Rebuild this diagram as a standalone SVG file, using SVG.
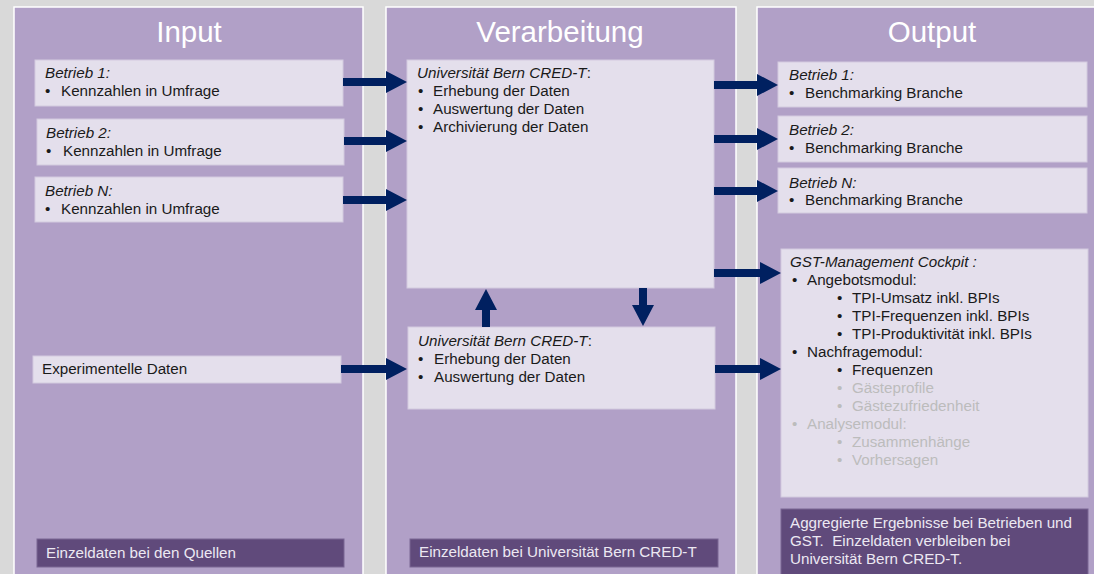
<svg xmlns="http://www.w3.org/2000/svg" width="1094" height="574" viewBox="0 0 1094 574">
<style>
.col{fill:#b1a0c7;stroke:#ffffff;stroke-width:1.5}
.box{fill:#e4dfec;stroke:#d3cadf;stroke-width:1}
.dark{fill:#604a7b;stroke:#7a6694;stroke-width:1}
.title{font-family:"Liberation Sans",Arial,sans-serif;font-size:29.5px;fill:#ffffff;text-anchor:middle}
.t{font-family:"Liberation Sans",Arial,sans-serif;font-size:15.2px;fill:#1a1a1a}
.i{font-style:italic}
.g{fill:#bcbcbc}
.w{fill:#ece8f2}
.arr{fill:#002060}
</style>
<rect x="0" y="0" width="1094" height="574" fill="#d9d9d9"/>
<g id="col-input">
<rect class="col" x="14" y="7" width="349" height="580"/>
<text class="title" x="189" y="42">Input</text>
</g>
<g id="col-verarbeitung">
<rect class="col" x="386" y="7" width="350" height="580"/>
<text class="title" x="560" y="42">Verarbeitung</text>
</g>
<g id="col-output">
<rect class="col" x="757" y="7" width="350" height="580"/>
<text class="title" x="932" y="42">Output</text>
</g>
<g id="in-b1">
<rect class="box" x="35" y="60" width="308" height="46"/>
<text class="t i" x="45" y="78">Betrieb 1:</text>
<text class="t" x="45" y="96">•</text><text class="t" x="61" y="96">Kennzahlen in Umfrage</text>
</g>
<g id="in-b2">
<rect class="box" x="37" y="119" width="307" height="46"/>
<text class="t i" x="46" y="138">Betrieb 2:</text>
<text class="t" x="46" y="156">•</text><text class="t" x="63" y="156">Kennzahlen in Umfrage</text>
</g>
<g id="in-bn">
<rect class="box" x="35" y="177" width="308" height="45"/>
<text class="t i" x="45" y="196">Betrieb N:</text>
<text class="t" x="45" y="214">•</text><text class="t" x="61" y="214">Kennzahlen in Umfrage</text>
</g>
<g id="in-exp">
<rect class="box" x="33" y="356" width="308" height="27"/>
<text class="t" x="42" y="374">Experimentelle Daten</text>
</g>
<g id="in-foot">
<rect class="dark" x="37" y="539" width="307" height="28"/>
<text class="t w" x="46" y="558">Einzeldaten bei den Quellen</text>
</g>
<g id="proc-upper">
<rect class="box" x="407" y="60" width="307" height="228"/>
<text class="t" x="417" y="78"><tspan class="i">Universität Bern CRED-T</tspan>:</text>
<text class="t" x="418" y="96">•</text><text class="t" x="433" y="96">Erhebung der Daten</text>
<text class="t" x="418" y="114">•</text><text class="t" x="433" y="114">Auswertung der Daten</text>
<text class="t" x="418" y="132">•</text><text class="t" x="433" y="132">Archivierung der Daten</text>
</g>
<g id="proc-lower">
<rect class="box" x="408" y="327" width="307" height="82"/>
<text class="t" x="418" y="346"><tspan class="i">Universität Bern CRED-T</tspan>:</text>
<text class="t" x="418" y="364">•</text><text class="t" x="434" y="364">Erhebung der Daten</text>
<text class="t" x="418" y="382">•</text><text class="t" x="434" y="382">Auswertung der Daten</text>
</g>
<g id="proc-foot">
<rect class="dark" x="410" y="539" width="308" height="28"/>
<text class="t w" x="419" y="557">Einzeldaten bei Universität Bern CRED-T</text>
</g>
<g id="out-b1">
<rect class="box" x="778" y="62" width="309" height="45"/>
<text class="t i" x="789" y="80">Betrieb 1:</text>
<text class="t" x="789" y="98">•</text><text class="t" x="805" y="98">Benchmarking Branche</text>
</g>
<g id="out-b2">
<rect class="box" x="778" y="116" width="309" height="46"/>
<text class="t i" x="789" y="135">Betrieb 2:</text>
<text class="t" x="789" y="153">•</text><text class="t" x="805" y="153">Benchmarking Branche</text>
</g>
<g id="out-bn">
<rect class="box" x="778" y="168" width="309" height="45"/>
<text class="t i" x="789" y="188">Betrieb N:</text>
<text class="t" x="789" y="205">•</text><text class="t" x="805" y="205">Benchmarking Branche</text>
</g>
<g id="out-gst">
<rect class="box" x="781" y="249" width="307" height="248"/>
<text class="t i" x="790" y="267">GST-Management Cockpit :</text>
<text class="t" x="792" y="285">•</text><text class="t" x="807" y="285">Angebotsmodul:</text>
<text class="t" x="837" y="303">•</text><text class="t" x="852" y="303">TPI-Umsatz inkl. BPIs</text>
<text class="t" x="837" y="321">•</text><text class="t" x="852" y="321">TPI-Frequenzen inkl. BPIs</text>
<text class="t" x="837" y="339">•</text><text class="t" x="852" y="339">TPI-Produktivität inkl. BPIs</text>
<text class="t" x="792" y="357">•</text><text class="t" x="807" y="357">Nachfragemodul:</text>
<text class="t" x="837" y="375">•</text><text class="t" x="852" y="375">Frequenzen</text>
<text class="t g" x="837" y="393">•</text><text class="t g" x="852" y="393">Gästeprofile</text>
<text class="t g" x="837" y="411">•</text><text class="t g" x="852" y="411">Gästezufriedenheit</text>
<text class="t g" x="792" y="429">•</text><text class="t g" x="807" y="429">Analysemodul:</text>
<text class="t g" x="837" y="447">•</text><text class="t g" x="852" y="447">Zusammenhänge</text>
<text class="t g" x="837" y="465">•</text><text class="t g" x="852" y="465">Vorhersagen</text>
</g>
<g id="out-foot">
<rect class="dark" x="781" y="509" width="307" height="70"/>
<text class="t w" x="790" y="528">Aggregierte Ergebnisse bei Betrieben und</text>
<text class="t w" x="790" y="546">GST.&#160; Einzeldaten verbleiben bei</text>
<text class="t w" x="790" y="564">Universität Bern CRED-T.</text>
</g>
<g id="connectors">
<polygon class="arr" points="343,78 386,78 386,71 407,82 386,93 386,86 343,86"/>
<polygon class="arr" points="344,137 386,137 386,130 407,141 386,152 386,145 344,145"/>
<polygon class="arr" points="343,196 386,196 386,189 407,200 386,211 386,204 343,204"/>
<polygon class="arr" points="341,365 386,365 386,358 407,369 386,380 386,373 341,373"/>
<polygon class="arr" points="714,81 757,81 757,74 778,85 757,96 757,89 714,89"/>
<polygon class="arr" points="714,135 757,135 757,128 778,139 757,150 757,143 714,143"/>
<polygon class="arr" points="714,187 757,187 757,180 778,191 757,202 757,195 714,195"/>
<polygon class="arr" points="714,269 760,269 760,262 781,273 760,284 760,277 714,277"/>
<polygon class="arr" points="715,365 760,365 760,358 781,369 760,380 760,373 715,373"/>
<polygon class="arr" points="482,327 482,310 475,310 486,289 497,310 490,310 490,327"/>
<polygon class="arr" points="639,288 639,305 632,305 643,326 654,305 647,305 647,288"/>
</g>
</svg>
